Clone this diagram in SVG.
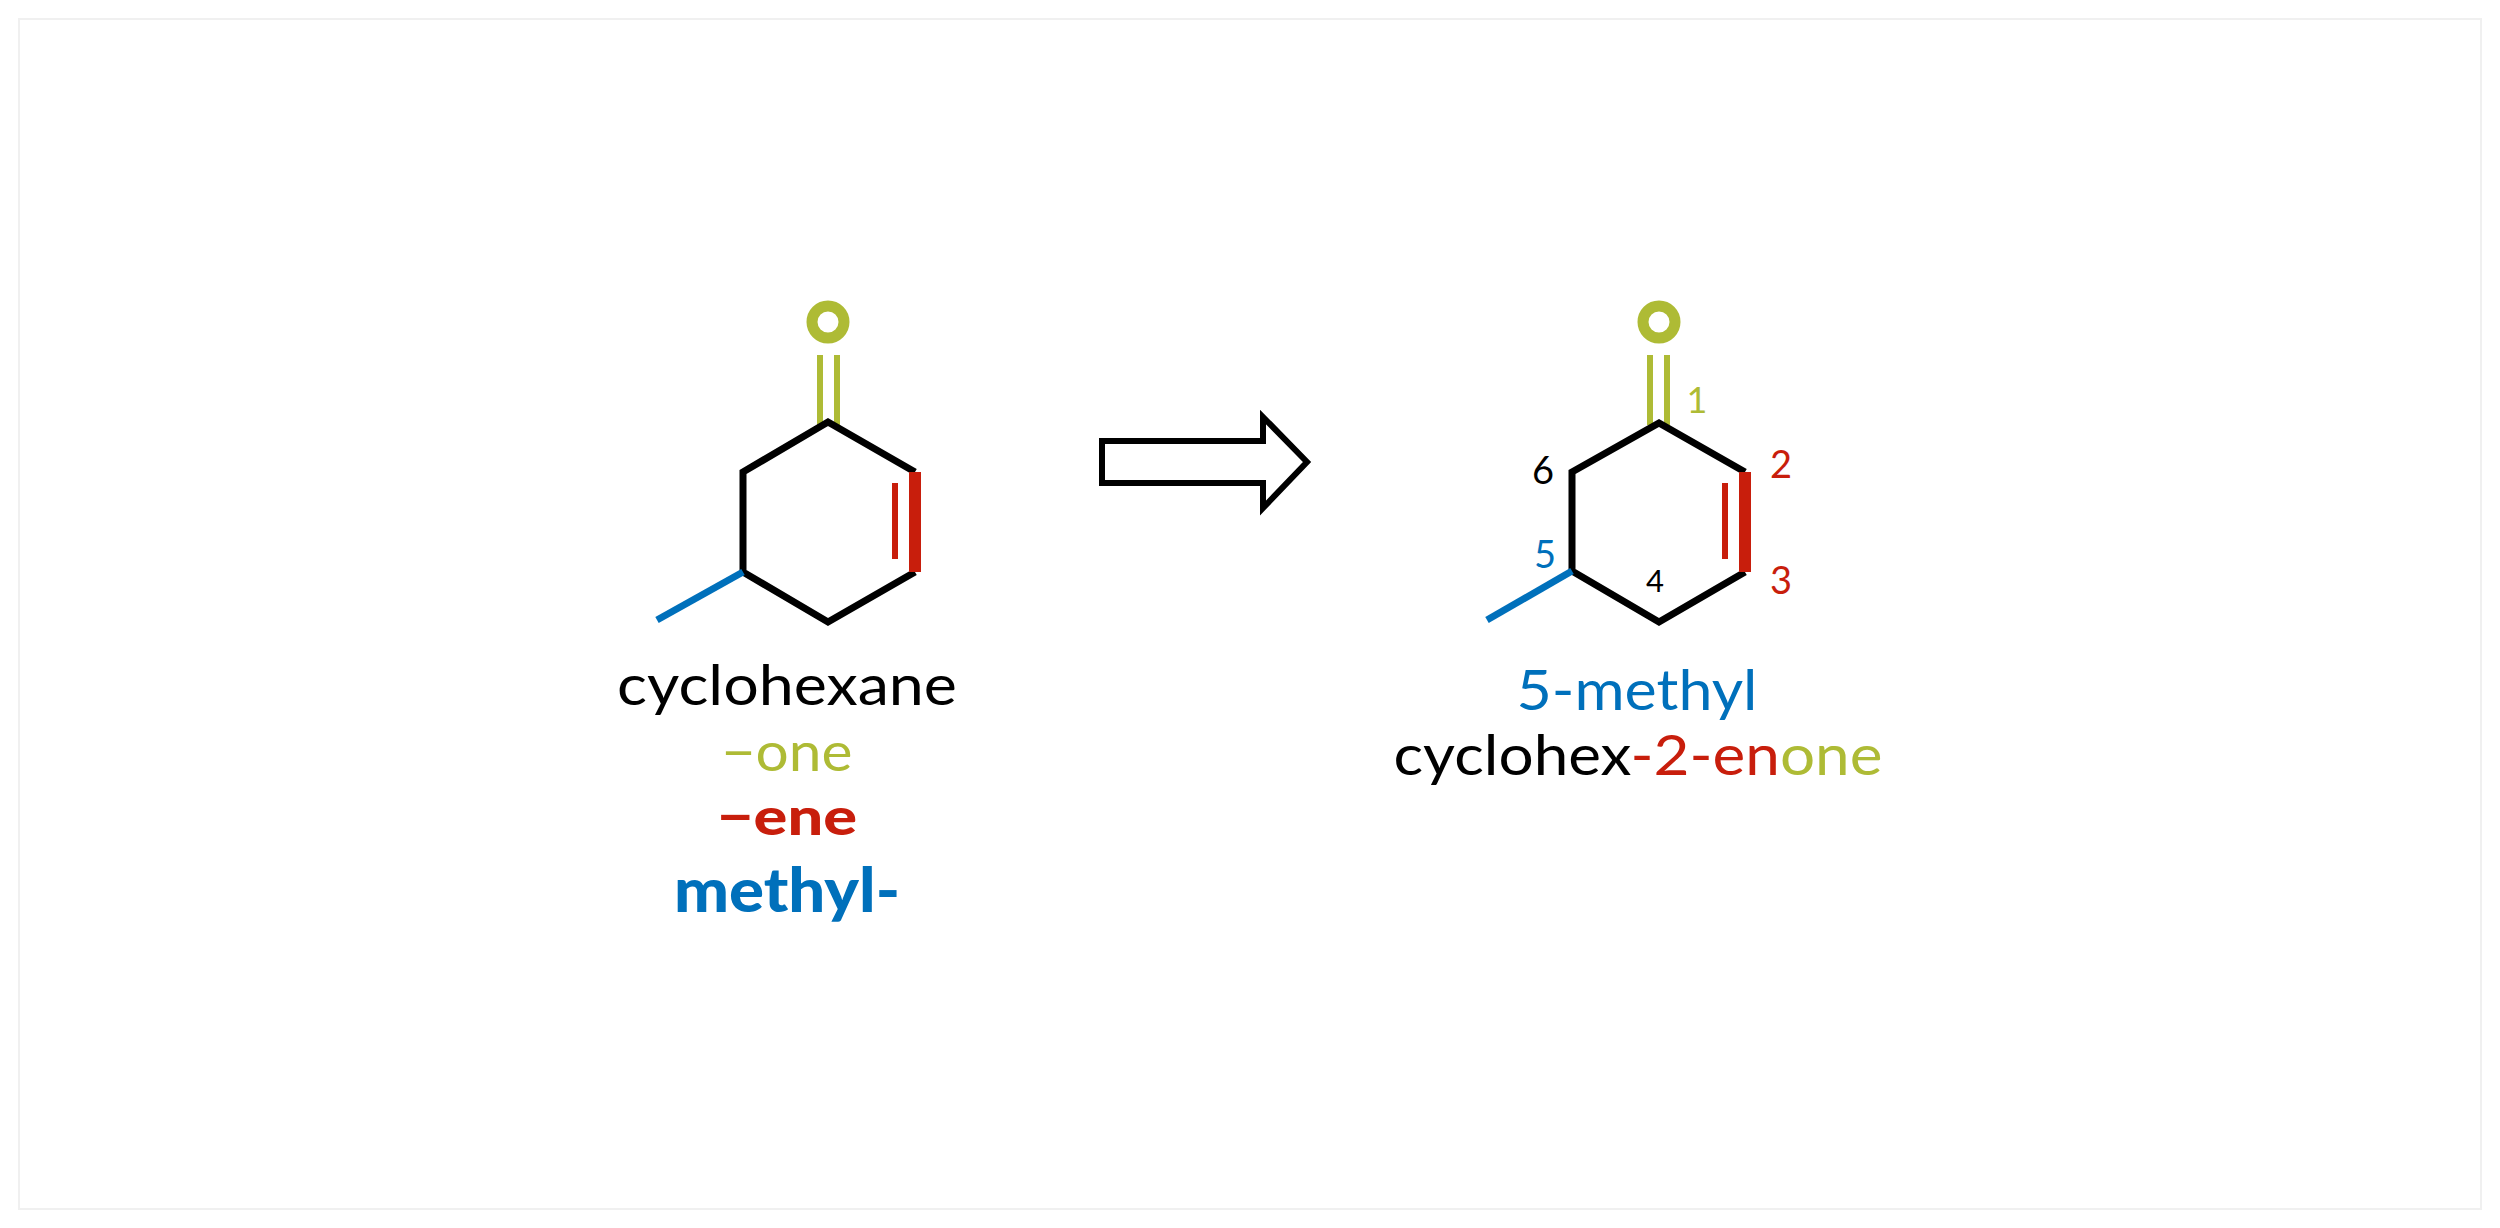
<svg xmlns="http://www.w3.org/2000/svg" width="2500" height="1228" viewBox="0 0 2500 1228">
<style>
.bk{stroke:#000;stroke-width:7;fill:none;stroke-linejoin:miter;stroke-linecap:butt}
.g{stroke:#aebb35;stroke-width:6}
.r{stroke:#c81e0c}
.b{stroke:#0070bb;stroke-width:7}
text{font-family:Lato,"Open Sans",sans-serif;text-anchor:middle}
.gt{fill:#aebb35}.rt{fill:#c81e0c}.bt{fill:#0070bb}
</style>
<rect x="19" y="19" width="2462" height="1190" fill="#fff" stroke="#f0f0f0" stroke-width="2"/>
<g id="mol-left">
<circle cx="828" cy="322" r="16" fill="none" stroke="#aebb35" stroke-width="11"/>
<line class="g" x1="820" y1="355" x2="820" y2="425"/>
<line class="g" x1="837" y1="355" x2="837" y2="425"/>
<polyline class="bk" points="915,472 828,422 743,472 743,572 828,622 915,572"/>
<line class="r" x1="915" y1="472" x2="915" y2="572" stroke-width="12"/>
<line class="r" x1="895" y1="483" x2="895" y2="559" stroke-width="6"/>
<line class="b" x1="743" y1="572" x2="657" y2="620"/>
</g>
<g id="text-left">
<text x="787" y="705" font-size="56" textLength="340" lengthAdjust="spacingAndGlyphs">cyclohexane</text>
<text x="787" y="771" font-size="54" class="gt" textLength="131" lengthAdjust="spacingAndGlyphs">−one</text>
<text x="787" y="835" font-size="52" font-weight="900" class="rt" textLength="140" lengthAdjust="spacingAndGlyphs">−ene</text>
<text x="787" y="912" font-size="60" font-weight="900" class="bt" textLength="226" lengthAdjust="spacingAndGlyphs">methyl-</text>
</g>
<g id="arrow">
<polygon points="1102,441 1263,441 1263,417 1307,462 1263,508 1263,483 1102,483" fill="#fff" stroke="#000" stroke-width="6"/>
</g>
<g id="mol-right">
<circle cx="1659" cy="322" r="16" fill="none" stroke="#aebb35" stroke-width="11"/>
<line class="g" x1="1650" y1="355" x2="1650" y2="425"/>
<line class="g" x1="1667" y1="355" x2="1667" y2="425"/>
<polyline class="bk" points="1745,472 1659,423 1572,472 1572,571 1659,622 1745,572"/>
<line class="r" x1="1745" y1="472" x2="1745" y2="572" stroke-width="12"/>
<line class="r" x1="1725" y1="483" x2="1725" y2="559" stroke-width="6"/>
<line class="b" x1="1572" y1="571" x2="1487" y2="620"/>
<text x="1697" y="413" font-size="36" class="gt">1</text>
<text x="1781" y="478" font-size="38" class="rt">2</text>
<text x="1781" y="594" font-size="38" class="rt">3</text>
<text x="1655" y="592" font-size="31">4</text>
<text x="1545" y="568" font-size="38" class="bt">5</text>
<text x="1543" y="484" font-size="38">6</text>
</g>
<g id="text-right">
<text x="1637" y="710" font-size="56" class="bt" textLength="241" lengthAdjust="spacingAndGlyphs">5-methyl</text>
<text x="1638" y="775" font-size="56" textLength="489" lengthAdjust="spacingAndGlyphs">cyclohex<tspan class="rt">-2-en</tspan><tspan class="gt">one</tspan></text>
</g>
<g id="connectors"/>
</svg>
